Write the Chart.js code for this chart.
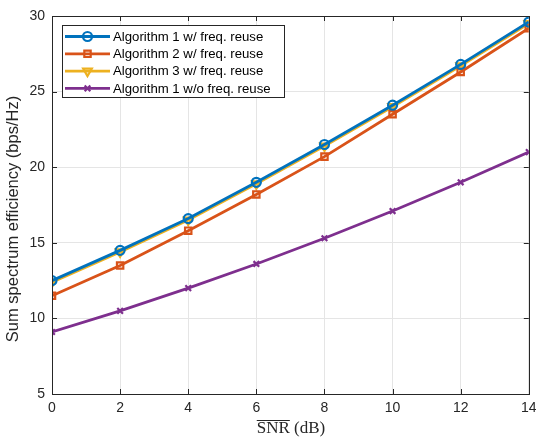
<!DOCTYPE html>
<html>
<head>
<meta charset="utf-8">
<script src="https://cdn.jsdelivr.net/npm/chart.js@4/dist/chart.umd.min.js"></script>
<style>
  html, body { margin: 0; padding: 0; background: #fff; }
  #wrap { width: 536px; height: 438px; }
</style>
</head>
<body>
<div id="wrap"><canvas id="c" width="536" height="438"></canvas></div>
<script>
// SNR sweep (dB)
const snrDb = [0, 2, 4, 6, 8, 10, 12, 14];
// Sum spectrum efficiency (bps/Hz) per scheme
const alg1Reuse   = [12.5, 14.5, 16.6, 19.0, 21.5, 24.1, 26.8, 29.6];
const alg2Reuse   = [11.5, 13.5, 15.8, 18.2, 20.7, 23.5, 26.3, 29.2];
const alg3Reuse   = [12.4, 14.4, 16.5, 18.9, 21.4, 24.0, 26.7, 29.5];
const alg1NoReuse = [9.1, 10.5, 12.0, 13.6, 15.3, 17.1, 19.0, 21.0];
const seriesNames = [
  'Algorithm 1 w/ freq. reuse',
  'Algorithm 2 w/ freq. reuse',
  'Algorithm 3 w/ freq. reuse',
  'Algorithm 1 w/o freq. reuse'
];
const xTicks = [0, 2, 4, 6, 8, 10, 12, 14];
const yTicks = [5, 10, 15, 20, 25, 30];
const yTitle = 'Sum spectrum efficiency (bps/Hz)';

const axisColor = '#262626';
const sansFont = '"Liberation Sans", Arial, Helvetica, sans-serif';

function pts(vals) { return snrDb.map((x, i) => ({ x: x, y: vals[i] })); }

function series(label, vals, color, style, radius) {
  return {
    label: label,
    data: pts(vals),
    borderColor: color,
    backgroundColor: color,
    borderWidth: 2.8,
    pointStyle: style,
    pointRadius: radius,
    pointBorderWidth: 2.2,
    pointBackgroundColor: 'rgba(0,0,0,0)',
    pointBorderColor: color,
    tension: 0
  };
}

const datasets = [
  series(seriesNames[0], alg1Reuse, '#0072BD', 'circle', 4.5),
  series(seriesNames[1], alg2Reuse, '#D95319', 'rect', 4.5),
  series(seriesNames[2], alg3Reuse, '#EDB120', 'triangle', 5),
  series(seriesNames[3], alg1NoReuse, '#7E2F8E', 'crossRot', 4)
];
// downward-pointing triangle for Algorithm 3
datasets[2].pointRotation = 180;

// Box, inward tick marks, in-plot legend and axis captions
const decor = {
  id: 'decor',
  afterDatasetsDraw(chart) {
    const ctx = chart.ctx;
    const a = chart.chartArea;
    const xs = chart.scales.x, ys = chart.scales.y;
    ctx.save();
    // axes box
    ctx.strokeStyle = axisColor;
    ctx.lineWidth = 1;
    ctx.strokeRect(Math.round(a.left) + 0.5, Math.round(a.top) + 0.5,
                   Math.round(a.right - a.left), Math.round(a.bottom - a.top));
    // inward ticks
    const tl = 5;
    ctx.beginPath();
    xTicks.forEach(v => {
      const px = Math.round(xs.getPixelForValue(v)) + 0.5;
      ctx.moveTo(px, a.bottom); ctx.lineTo(px, a.bottom - tl);
      ctx.moveTo(px, a.top); ctx.lineTo(px, a.top + tl);
    });
    yTicks.forEach(v => {
      const py = Math.round(ys.getPixelForValue(v)) + 0.5;
      ctx.moveTo(a.left, py); ctx.lineTo(a.left + tl, py);
      ctx.moveTo(a.right, py); ctx.lineTo(a.right - tl, py);
    });
    ctx.stroke();

    // legend
    const lx = 62, ly = 25, lw = 222, lh = 72;
    ctx.fillStyle = '#fff';
    ctx.fillRect(lx, ly, lw, lh);
    ctx.strokeStyle = axisColor;
    ctx.lineWidth = 1;
    ctx.strokeRect(lx + 0.5, ly + 0.5, lw, lh);
    ctx.font = '13.2px ' + sansFont;
    ctx.textBaseline = 'middle';
    ctx.textAlign = 'left';
    chart.data.datasets.forEach((ds, i) => {
      const cy = ly + 11.5 + i * 17.3;
      ctx.strokeStyle = ds.borderColor;
      ctx.lineWidth = ds.borderWidth;
      ctx.beginPath();
      ctx.moveTo(65, cy); ctx.lineTo(110, cy);
      ctx.stroke();
      ctx.lineWidth = ds.pointBorderWidth;
      ctx.strokeStyle = ds.pointBorderColor;
      ctx.fillStyle = ds.pointBackgroundColor;
      Chart.helpers.drawPoint(ctx, {
        pointStyle: ds.pointStyle,
        rotation: ds.pointRotation || 0,
        radius: ds.pointRadius,
        borderWidth: ds.pointBorderWidth
      }, 87.5, cy);
      ctx.fillStyle = '#000';
      ctx.fillText(ds.label, 113, cy + 0.5);
    });

    // y-axis caption
    ctx.fillStyle = axisColor;
    ctx.font = '16.5px ' + sansFont;
    ctx.textAlign = 'center';
    ctx.textBaseline = 'middle';
    ctx.save();
    ctx.translate(13, 219);
    ctx.rotate(-Math.PI / 2);
    ctx.fillText(yTitle, 0, 0);
    ctx.restore();

    // x-axis caption: overlined SNR in serif, followed by (dB)
    ctx.fillStyle = axisColor;
    ctx.strokeStyle = axisColor;
    ctx.font = '17px "Liberation Serif", "DejaVu Serif", serif';
    ctx.textBaseline = 'alphabetic';
    ctx.textAlign = 'left';
    const w1 = ctx.measureText('SNR').width;
    const w2 = ctx.measureText(' (dB)').width;
    const cx = 291;
    const x0 = cx - (w1 + w2) / 2;
    const by = 433;
    ctx.fillText('SNR', x0, by);
    ctx.fillText(' (dB)', x0 + w1, by);
    ctx.lineWidth = 1;
    ctx.beginPath();
    ctx.moveTo(x0, by - 12.5);
    ctx.lineTo(x0 + w1, by - 12.5);
    ctx.stroke();
    ctx.restore();
  }
};

new Chart(document.getElementById('c'), {
  type: 'line',
  data: { datasets: datasets },
  options: {
    responsive: false,
    animation: false,
    devicePixelRatio: 1,
    layout: { padding: { top: 16, right: 7, left: 0, bottom: 0 } },
    plugins: { legend: { display: false }, tooltip: { enabled: false } },
    scales: {
      x: {
        type: 'linear',
        min: 0, max: 14,
        afterBuildTicks(s) { s.ticks = xTicks.map(v => ({ value: v })); },
        afterFit(s) { s.height = 44; s.paddingLeft = 0; s.paddingRight = 0; },
        grid: { color: '#e5e5e5', lineWidth: 1, drawTicks: false },
        border: { display: false },
        ticks: { color: axisColor, padding: 6, maxRotation: 0, font: { family: sansFont, size: 14 } }
      },
      y: {
        min: 5, max: 30,
        afterBuildTicks(s) { s.ticks = yTicks.map(v => ({ value: v })); },
        afterFit(s) { s.width = 52; s.paddingTop = 0; s.paddingBottom = 0; },
        grid: { color: '#e5e5e5', lineWidth: 1, drawTicks: false },
        border: { display: false },
        ticks: { color: axisColor, padding: 7, font: { family: sansFont, size: 14 } }
      }
    }
  },
  plugins: [decor]
});
</script>
</body>
</html>
